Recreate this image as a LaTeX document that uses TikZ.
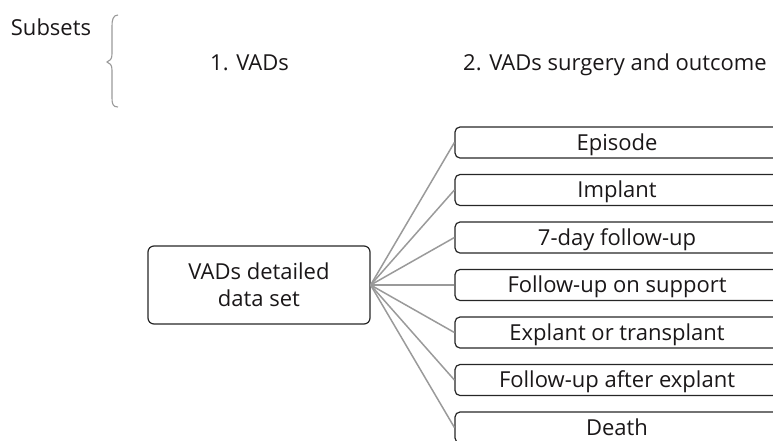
\documentclass[tikz,border=0pt]{standalone}
\usepackage{fontspec}
\setmainfont{Open Sans}
\definecolor{textc}{HTML}{1A1718}
\definecolor{boxc}{HTML}{262626}
\definecolor{linkc}{HTML}{9A9A9A}
\begin{document}
\begin{tikzpicture}[x=1pt,y=-1pt,
  txt/.style={text=textc, font=\fontsize{22}{27}\selectfont, inner sep=0pt},
  itembox/.style={txt, draw=boxc, line width=1.2pt, rounded corners=5pt,
    minimum width=324pt, minimum height=31pt, text height=15.5pt, text depth=0pt},
  mainbox/.style={txt, draw=boxc, line width=1.2pt, rounded corners=6pt,
    minimum width=222pt, minimum height=78pt, align=center},
  link/.style={draw=linkc, line width=1.5pt},
  bracestyle/.style={draw=linkc, line width=1.1pt}]
\useasboundingbox (0,0) rectangle (773,440);
\clip (0,0) rectangle (773,440);
\node[txt, anchor=base] (subsets) at (51,35) {Subsets};
\node[txt, anchor=base west] (s1) at (210,70) {1. VADs};
\node[txt, anchor=base west] (s2) at (463,70) {2. VADs surgery and outcome};
\draw[bracestyle] (118,15) .. controls (113,15) and (112,20) .. (112,26) -- (112,54)
  .. controls (112,59) and (110,61) .. (107,62)
  .. controls (110,63) and (112,65) .. (112,70) -- (112,98)
  .. controls (112,104) and (113,107) .. (118,107);
\node[mainbox] (main) at (259,285) {VADs detailed\\data set};
\foreach \n/\t [count=\i from 0] in {ep/Episode, im/Implant, sd/7-day follow-up,
    fs/Follow-up on support, et/Explant or transplant, fa/Follow-up after explant, de/Death} {
  \node[itembox] (\n) at (617,142.5+47.5*\i) {\t};
  \draw[link] (main.east) -- (\n.west);
}
\end{tikzpicture}
\end{document}
